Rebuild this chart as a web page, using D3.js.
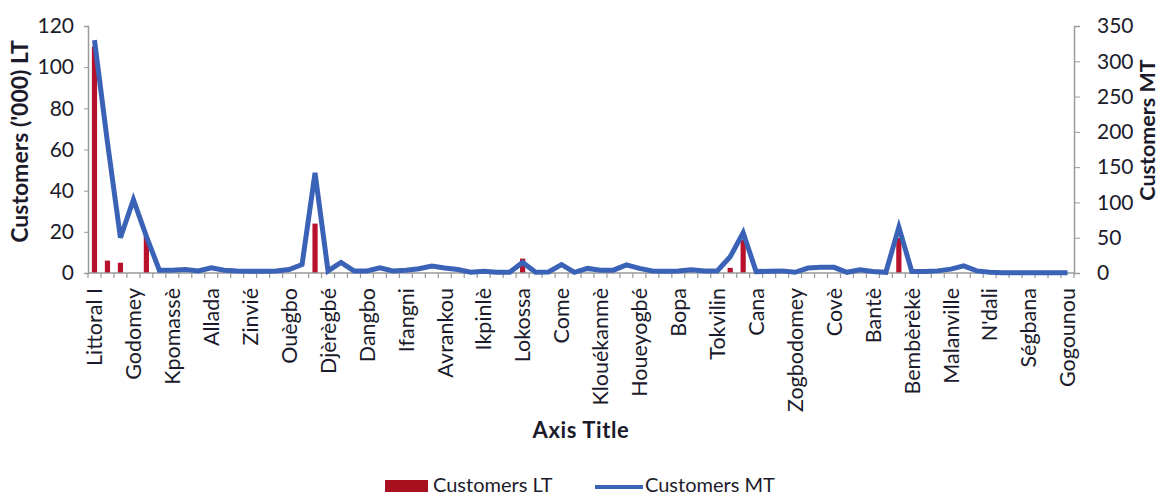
<!DOCTYPE html>
<html>
<head>
<meta charset="utf-8">
<script src="https://cdn.jsdelivr.net/npm/d3@7"></script>
<style>
  html, body { margin: 0; padding: 0; background: #fff; }
  svg { display: block; }
  text { font-family: Lato, "Open Sans", sans-serif; fill: #1b1b2b; }
</style>
</head>
<body>
<svg id="chart" width="1161" height="498"></svg>
<script>
// Visible category tick labels (Excel shows every 3rd category)
const tickLabels = ["Littoral I","Godomey","Kpomassè","Allada","Zinvié","Ouègbo","Djèrègbé","Dangbo",
  "Ifangni","Avrankou","Ikpinlè","Lokossa","Come","Klouékanmè","Houeyogbé","Bopa","Tokvilin","Cana",
  "Zogbodomey","Covè","Bantè","Bembèrèkè","Malanville","N'dali","Ségbana","Gogounou"];
const labelEvery = 3;

// Customers LT ('000), left axis — bars
const customersLT = [110,6,5,0,18,0,0,0,0,0, 0,0,0,0,0,0,0,24,0,0, 0,0,0,0,0,0,0,0,0,0,
  0,0,0,7,0,0,0,0,0,0, 0,0,0,0,0,0,0,0,0,2.5, 16,0,0,0,0,0,0,0,0,0, 0,0,17,0,0,0,0,0,0,0, 0,0,0,0,0,0];

// Customers MT, right axis — line
const customersMT = [330,185,50,104,52,4,4,5,3,7.5, 4,3,2.5,2.5,3,5,12,142,3,15,
  3,3,7.5,3,4,6,10,7,5,1, 2.5,1,1,15,1,1.5,12,1,6.5,4,
  4,11.5,6.5,3,2.5,3,4.5,3,3,23, 57,2,2.5,3,1,7,8,8,1,4.5,
  2,1,65,2,2,3,5.5,10,3,1, 0.5,0.5,0.5,0.5,0.5,0.3];

const leftTicks = [0,20,40,60,80,100,120];
const rightTicks = [0,50,100,150,200,250,300,350];
const leftTitle = "Customers ('000) LT";
const rightTitle = "Customers MT";
const xTitle = "Axis Title";
const seriesNames = ["Customers LT","Customers MT"];

const colLT = "#b8112c";
const colMT = "#3a62b6";
const axisCol = "#9a9a9a";

const svg = d3.select("#chart");
const plot = {left: 88, right: 1074, top: 26, bottom: 273};

const cats = d3.range(customersMT.length);
const x = d3.scaleBand().domain(cats).range([plot.left, plot.right]).paddingInner(0).paddingOuter(0);
const yL = d3.scaleLinear().domain([0,120]).range([plot.bottom, plot.top]);
const yR = d3.scaleLinear().domain([0,350]).range([plot.bottom, plot.top]);
const cx = i => x(i) + x.bandwidth()/2;

// Bars
svg.append("g").selectAll("rect").data(customersLT).join("rect")
  .attr("x", (d,i) => cx(i) - 2.6)
  .attr("width", 5.2)
  .attr("y", d => yL(d))
  .attr("height", d => yL(0) - yL(d))
  .attr("fill", colLT);

// X axis line with boundary ticks
const gx = svg.append("g");
gx.append("line").attr("x1", plot.left).attr("x2", plot.right)
  .attr("y1", plot.bottom).attr("y2", plot.bottom)
  .attr("stroke", axisCol).attr("stroke-width", 1.5);
gx.selectAll("line.tk").data(d3.range(cats.length + 1)).join("line").attr("class","tk")
  .attr("x1", i => plot.left + i * x.bandwidth()).attr("x2", i => plot.left + i * x.bandwidth())
  .attr("y1", plot.bottom).attr("y2", plot.bottom + 5)
  .attr("stroke", axisCol).attr("stroke-width", 1.2);

// Category labels
gx.selectAll("text").data(tickLabels).join("text")
  .attr("transform", (d,k) => `translate(${cx(k*labelEvery)},${plot.bottom + 15}) rotate(-90)`)
  .attr("text-anchor", "end")
  .attr("dy", "0.36em")
  .attr("font-size", 21.5)
  .text(d => d);

// Line
const line = d3.line().x((d,i) => cx(i)).y(d => yR(d));
svg.append("path").datum(customersMT)
  .attr("d", line)
  .attr("fill", "none")
  .attr("stroke", colMT)
  .attr("stroke-width", 5)
  .attr("stroke-linejoin", "miter");

// Left axis
const gl = svg.append("g").attr("transform", `translate(${plot.left},0)`)
  .call(d3.axisLeft(yL).tickValues(leftTicks).tickSize(4).tickPadding(10));
gl.select(".domain").attr("stroke", axisCol).attr("stroke-width", 1.5);
gl.selectAll(".tick line").attr("stroke", axisCol);
gl.selectAll(".tick text").attr("font-size", 21).attr("font-family", "Lato, sans-serif").attr("fill", "#1b1b2b");

// Right axis
const gr = svg.append("g").attr("transform", `translate(${plot.right},0)`)
  .call(d3.axisRight(yR).tickValues(rightTicks).tickSize(6).tickPadding(17));
gr.select(".domain").attr("stroke", axisCol).attr("stroke-width", 1.5);
gr.selectAll(".tick line").attr("stroke", axisCol);
gr.selectAll(".tick text").attr("font-size", 21).attr("font-family", "Lato, sans-serif").attr("fill", "#1b1b2b");

// Axis titles
svg.append("text")
  .attr("transform", `translate(28,${(plot.top+plot.bottom)/2 - 8}) rotate(-90)`)
  .attr("text-anchor", "middle").attr("font-size", 23).attr("font-weight", 700)
  .text(leftTitle);
svg.append("text")
  .attr("transform", `translate(1155,${130}) rotate(-90)`)
  .attr("text-anchor", "middle").attr("font-size", 21.5).attr("font-weight", 700)
  .text(rightTitle);
svg.append("text")
  .attr("x", 581).attr("y", 438)
  .attr("text-anchor", "middle").attr("font-size", 22).attr("font-weight", 700)
  .attr("letter-spacing", 0.6)
  .text(xTitle);

// Legend
const lg = svg.append("g");
lg.append("rect").attr("x", 385).attr("y", 480).attr("width", 43).attr("height", 12).attr("fill", "#a8101f");
lg.append("text").attr("x", 433).attr("y", 492).attr("font-size", 20).text(seriesNames[0]);
lg.append("line").attr("x1", 595).attr("x2", 643).attr("y1", 487).attr("y2", 487)
  .attr("stroke", colMT).attr("stroke-width", 4);
lg.append("text").attr("x", 645).attr("y", 492).attr("font-size", 20).text(seriesNames[1]);
</script>
</body>
</html>
